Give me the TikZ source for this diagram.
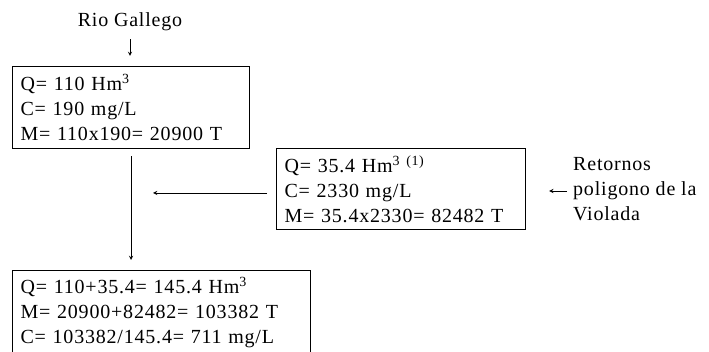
\documentclass[tikz,border=0pt]{standalone}
\usepackage{fontspec}
\setmainfont[LetterSpace=4]{Liberation Serif}
\usetikzlibrary{arrows,positioning}

\begin{document}
\begin{tikzpicture}[
        x=1pt, y=-1pt,
        font=\fontsize{20}{25}\selectfont,
        box/.style={draw, line width=1.2pt, anchor=north west, align=left,
            inner xsep=8pt, inner ysep=0pt},
        lbl/.style={inner sep=0pt, align=left},
        flow/.style={->, >=stealth, line width=0.9pt},
    ]
    \useasboundingbox (0,0) rectangle (709,352);
    \clip (0,0) rectangle (709,352);
    \node[lbl] (rio) at (130,22) {Rio Gallego};
    \node[box, text width=221pt, minimum height=82pt] (q1) at (12,66)
        {Q= 110 Hm\textsuperscript{3}\\C= 190 mg/L\\M= 110x190= 20900 T};
    \node[box, text width=233pt, minimum height=81pt] (q2) at (276,148)
        {Q= 35.4 Hm\textsuperscript{3 (1)}\\C= 2330 mg/L\\M= 35.4x2330= 82482 T};
    \node[box, text width=282pt, minimum height=84pt] (sum) at (12,270)
        {Q= 110+35.4= 145.4 Hm\textsuperscript{3}\\M= 20900+82482= 103382 T\\C= 103382/145.4= 711 mg/L};
    \node[lbl, anchor=west] (ret) at (573,189) {Retornos\\poligono de la\\Violada};
    \coordinate (join) at (131,193);
    % connectors
    \draw[flow, shorten <=8pt, shorten >=10pt] (rio.south) -- (rio.south |- q1.north);
    \draw[flow, shorten <=7pt, shorten >=10pt] (join |- q1.south) -- (join |- sum.north);
    \draw[flow, shorten <=9pt, shorten >=22pt] (q2.west |- join) -- (join);
    \draw[flow, shorten <=6pt, shorten >=23pt] ([yshift=-2pt]ret.west) -- ([yshift=-2pt]q2.east |- ret.west);
\end{tikzpicture}
\end{document}
